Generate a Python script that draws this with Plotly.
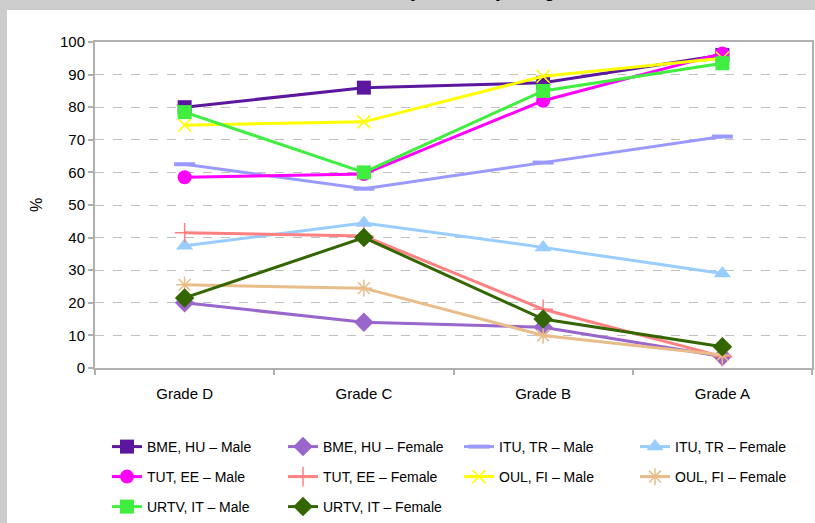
import plotly.graph_objects as go

# Grade categories on the x axis
grades = ["Grade D", "Grade C", "Grade B", "Grade A"]

# Share of students (%) per grade, by university and gender
bme_hu_male = [80, 86, 87.5, 96]
bme_hu_female = [20, 14, 12.5, 3.5]
itu_tr_male = [62.5, 55, 63, 71]
itu_tr_female = [37.5, 44.5, 37, 29]
tut_ee_male = [58.5, 59.5, 82, 96.5]
tut_ee_female = [41.5, 40.5, 18, 3.5]
oul_fi_male = [74.5, 75.5, 89.5, 95]
oul_fi_female = [25.5, 24.5, 10, 4]
urtv_it_male = [78.5, 60, 85, 93.5]
urtv_it_female = [21.5, 40, 15, 6.5]

y_ticks = list(range(0, 101, 10))

FONT = "Liberation Sans, Arial, sans-serif"

# name, values, colour, marker symbol, marker size, legend row
series = [
    ("BME, HU \u2013 Male", bme_hu_male, "#5b189e", "square", 14, "legend"),
    ("BME, HU \u2013 Female", bme_hu_female, "#9966cc", "diamond", 15, "legend"),
    ("ITU, TR \u2013 Male", itu_tr_male, "#9999ff", "line-ew-open", 15, "legend"),
    ("ITU, TR \u2013 Female", itu_tr_female, "#99ccff", "triangle-up", 15, "legend"),
    ("TUT, EE \u2013 Male", tut_ee_male, "#ff00ff", "circle", 14, "legend2"),
    ("TUT, EE \u2013 Female", tut_ee_female, "#ff8080", "cross-thin-open", 14, "legend2"),
    ("OUL, FI \u2013 Male", oul_fi_male, "#ffff00", "x-thin-open", 13, "legend2"),
    ("OUL, FI \u2013 Female", oul_fi_female, "#e8bd8a", "asterisk-open", 14, "legend2"),
    ("URTV, IT \u2013 Male", urtv_it_male, "#40ee40", "square", 14, "legend3"),
    ("URTV, IT \u2013 Female", urtv_it_female, "#336600", "diamond", 15, "legend3"),
]

fig = go.Figure()
for name, vals, color, symbol, size, leg in series:
    open_sym = symbol.endswith("-open")
    fig.add_trace(go.Scatter(
        x=grades, y=vals, name=name, mode="lines+markers",
        line=dict(color=color, width=3),
        marker=dict(symbol=symbol, size=size, color=color,
                    line=dict(color=color, width=4 if symbol == "line-ew-open" else (1.5 if open_sym else 0))),
        legend=leg,
    ))

W, H = 815, 523
L, R, T, B = 95, 3, 42, 155
pw, ph = W - L - R, H - T - B


def px_x(p):
    return (p - L) / pw


def px_y(p):
    return (H - B - p) / ph


legend_common = dict(
    orientation="h", xanchor="left", yanchor="middle",
    font=dict(family=FONT, size=14, color="#000000"),
    bgcolor="rgba(0,0,0,0)", entrywidthmode="pixels", entrywidth=131,
    itemclick=False, itemdoubleclick=False,
)

fig.update_layout(
    width=W, height=H,
    margin=dict(l=L, r=R, t=T, b=B, autoexpand=False),
    paper_bgcolor="#cccccc",
    plot_bgcolor="#ffffff",
    font=dict(family=FONT, size=15, color="#000000"),
    showlegend=True,
    legend=dict(x=px_x(107), y=px_y(447), **legend_common),
    legend2=dict(x=px_x(107), y=px_y(477), **legend_common),
    legend3=dict(x=px_x(107), y=px_y(507), **legend_common),
    shapes=[dict(
        type="rect", xref="paper", yref="paper", layer="below",
        x0=px_x(7), x1=px_x(W + 2), y0=px_y(H + 2), y1=px_y(10),
        fillcolor="#ffffff", line=dict(width=0),
    )],
    annotations=[dict(
        text="<b>Grade distribution by university and gender</b>",
        xref="paper", yref="paper", x=px_x(425), y=px_y(4),
        xanchor="center", yanchor="bottom", showarrow=False,
        font=dict(family=FONT, size=17, color="#000000"),
    )],
)

fig.update_xaxes(
    type="category", categoryorder="array", categoryarray=grades,
    range=[-0.5, 3.5],
    showline=True, linecolor="#b0b0b0", linewidth=2, mirror=True,
    ticks="outside", tickson="boundaries", ticklen=5, tickcolor="#b0b0b0", tickwidth=2,
    ticklabelstandoff=11, automargin=False,
    showgrid=False, tickfont=dict(family=FONT, size=15, color="#000000"),
    fixedrange=True,
)
fig.update_yaxes(
    range=[0, 100], tickvals=y_ticks,
    showline=True, linecolor="#b0b0b0", linewidth=2, mirror=True,
    ticks="outside", ticklen=5, tickcolor="#b0b0b0", tickwidth=2,
    showgrid=True, gridcolor="#c0c0c0", gridwidth=1, griddash="dash",
    zeroline=False, automargin=False,
    tickfont=dict(family=FONT, size=15, color="#000000"),
    title=dict(text="%", font=dict(family=FONT, size=16, color="#000000"), standoff=13),
    fixedrange=True,
)

fig.write_html("out.html")
